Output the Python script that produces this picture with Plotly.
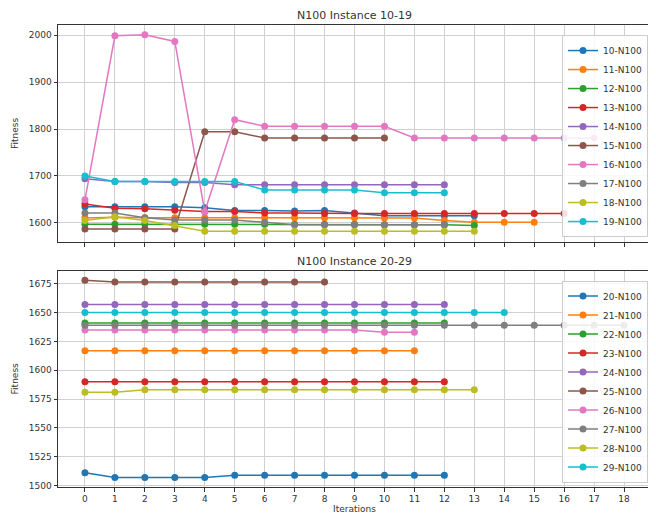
import plotly.graph_objects as go

# ---------------- data ----------------
top_title = "N100 Instance 10-19"
bottom_title = "N100 Instance 20-29"
x_title = "Iterations"
y_title = "Fitness"

top_names = ["10-N100", "11-N100", "12-N100", "13-N100", "14-N100",
             "15-N100", "16-N100", "17-N100", "18-N100", "19-N100"]
bottom_names = ["20-N100", "21-N100", "22-N100", "23-N100", "24-N100",
                "25-N100", "26-N100", "27-N100", "28-N100", "29-N100"]

s10 = [1634, 1634, 1634, 1634, 1632, 1626, 1626, 1625, 1626, 1621, 1615, 1615, 1615, 1615]
s11 = [1610, 1612, 1611, 1611, 1611, 1611, 1611, 1611, 1611, 1611, 1610, 1610, 1605, 1601, 1601, 1601]
s12 = [1597, 1597, 1597, 1597, 1597, 1597, 1597, 1597, 1597, 1597, 1596, 1596, 1596, 1594]
s13 = [1640, 1631, 1630, 1627, 1624, 1624, 1621, 1621, 1620, 1620, 1620, 1620, 1620, 1620, 1620, 1620, 1620]
s14 = [1694, 1688, 1688, 1686, 1686, 1681, 1681, 1681, 1681, 1681, 1681, 1681, 1681]
s15 = [1587, 1587, 1587, 1587, 1794, 1794, 1781, 1781, 1781, 1781, 1781]
s16 = [1649, 1999, 2001, 1987, 1624, 1820, 1806, 1806, 1806, 1806, 1806,
       1781, 1781, 1781, 1781, 1781, 1781, 1781]
s17 = [1621, 1621, 1611, 1606, 1606, 1606, 1601, 1596, 1596, 1596, 1596, 1596, 1596]
s18 = [1605, 1613, 1605, 1594, 1582, 1582, 1582, 1582, 1582, 1582, 1582, 1582, 1582, 1582]
s19 = [1700, 1688, 1688, 1688, 1688, 1688, 1670, 1670, 1670, 1670, 1664, 1664, 1664]

s20 = [1511, 1507, 1507, 1507, 1507, 1509, 1509, 1509, 1509, 1509, 1509, 1509, 1509]
s21 = [1617, 1617, 1617, 1617, 1617, 1617, 1617, 1617, 1617, 1617, 1617, 1617]
s22 = [1641, 1641, 1641, 1641, 1641, 1641, 1641, 1641, 1641, 1641, 1641, 1641, 1641]
s23 = [1590, 1590, 1590, 1590, 1590, 1590, 1590, 1590, 1590, 1590, 1590, 1590, 1590]
s24 = [1657, 1657, 1657, 1657, 1657, 1657, 1657, 1657, 1657, 1657, 1657, 1657, 1657]
s25 = [1678, 1676.5, 1676.5, 1676.5, 1676.5, 1676.5, 1676.5, 1676.5, 1676.5]
s26 = [1635, 1635, 1635, 1635, 1635, 1635, 1635, 1635, 1635, 1635, 1633, 1633]
s27 = [1639, 1639, 1639, 1639, 1639, 1639, 1639, 1639, 1639, 1639,
       1639, 1639, 1639, 1639, 1639, 1639, 1639, 1639, 1639]
s28 = [1581, 1581, 1583, 1583, 1583, 1583, 1583, 1583, 1583, 1583, 1583, 1583, 1583, 1583]
s29 = [1650, 1650, 1650, 1650, 1650, 1650, 1650, 1650, 1650, 1650, 1650, 1650, 1650, 1650, 1650]

top_series = [s10, s11, s12, s13, s14, s15, s16, s17, s18, s19]
bottom_series = [s20, s21, s22, s23, s24, s25, s26, s27, s28, s29]

x_ticks = list(range(19))
top_yticks = [1600, 1700, 1800, 1900, 2000]
bottom_yticks = [1500, 1525, 1550, 1575, 1600, 1625, 1650, 1675]

colors = ["#1f77b4", "#ff7f0e", "#2ca02c", "#d62728", "#9467bd",
          "#8c564b", "#e377c2", "#7f7f7f", "#bcbd22", "#17becf"]

# ---------------- figure ----------------
FONT = "DejaVu Sans"
TXT = "#333333"
fig = go.Figure()

for name, vals, c in zip(top_names, top_series, colors):
    fig.add_trace(go.Scatter(
        x=list(range(len(vals))), y=vals, name=name, mode="lines+markers",
        line=dict(color=c, width=1.5), marker=dict(color=c, size=7),
        xaxis="x", yaxis="y", legend="legend"))

for name, vals, c in zip(bottom_names, bottom_series, colors):
    fig.add_trace(go.Scatter(
        x=list(range(len(vals))), y=vals, name=name, mode="lines+markers",
        line=dict(color=c, width=1.5), marker=dict(color=c, size=7),
        xaxis="x2", yaxis="y2", legend="legend2"))

# The page body has an 8px default margin; lay out in screen pixels minus it.
OFF = 8
W, Hfig = 656, 515
left_px, right_px = 57.5 - OFF, 651 - OFF
top_px, bottom_px = 24.5 - OFF, 487.5 - OFF
top_axis_bottom = 242 - OFF
bottom_axis_top = 270.7 - OFF
H = bottom_px - top_px
PW = right_px - left_px

def py(v):
    return (bottom_px - v) / H

grid = "#d0d0d0"
axis_common = dict(showgrid=True, gridcolor=grid, gridwidth=1,
                   showline=True, linecolor="#333333", linewidth=1, mirror=True,
                   ticks="outside", ticklen=3.5, tickcolor="#333333",
                   tickfont=dict(family=FONT, size=9, color=TXT),
                   zeroline=False, automargin=False)

legend_common = dict(x=(648 - OFF - left_px) / PW, xanchor="right", yanchor="bottom",
                     bgcolor="rgba(255,255,255,0.85)", bordercolor="#cccccc", borderwidth=1,
                     font=dict(family=FONT, size=9, color=TXT), itemwidth=30,
                     tracegroupgap=0)

fig.update_layout(
    width=W, height=Hfig,
    margin=dict(l=left_px, r=W - right_px, t=top_px, b=Hfig - bottom_px, autoexpand=False),
    paper_bgcolor="white", plot_bgcolor="white",
    font=dict(family=FONT, size=9, color=TXT),
    xaxis=dict(axis_common, domain=[0, 1], anchor="y", range=[-0.9, 18.9],
               tickvals=x_ticks, showticklabels=False),
    yaxis=dict(axis_common, domain=[py(top_axis_bottom), 1], anchor="x",
               range=[1559, 2022], tickvals=top_yticks,
               title=dict(text=y_title, font=dict(family=FONT, size=9, color=TXT), standoff=8)),
    xaxis2=dict(axis_common, domain=[0, 1], anchor="y2", range=[-0.9, 18.9],
                tickvals=x_ticks,
                title=dict(text=x_title, font=dict(family=FONT, size=9, color=TXT), standoff=2)),
    yaxis2=dict(axis_common, domain=[0, py(bottom_axis_top)], anchor="x2",
                range=[1498.7, 1686.4], tickvals=bottom_yticks,
                title=dict(text=y_title, font=dict(family=FONT, size=9, color=TXT), standoff=8)),
    legend=dict(legend_common, y=py(237 - OFF)),
    legend2=dict(legend_common, y=py(483 - OFF)),
    annotations=[
        dict(text=top_title, xref="paper", yref="paper", x=0.5, y=py(15 - OFF),
             xanchor="center", yanchor="middle", showarrow=False,
             font=dict(family=FONT, size=11, color=TXT)),
        dict(text=bottom_title, xref="paper", yref="paper", x=0.5, y=py(261.5 - OFF),
             xanchor="center", yanchor="middle", showarrow=False,
             font=dict(family=FONT, size=11, color=TXT)),
    ],
    showlegend=True,
)

fig.write_html("out.html")
